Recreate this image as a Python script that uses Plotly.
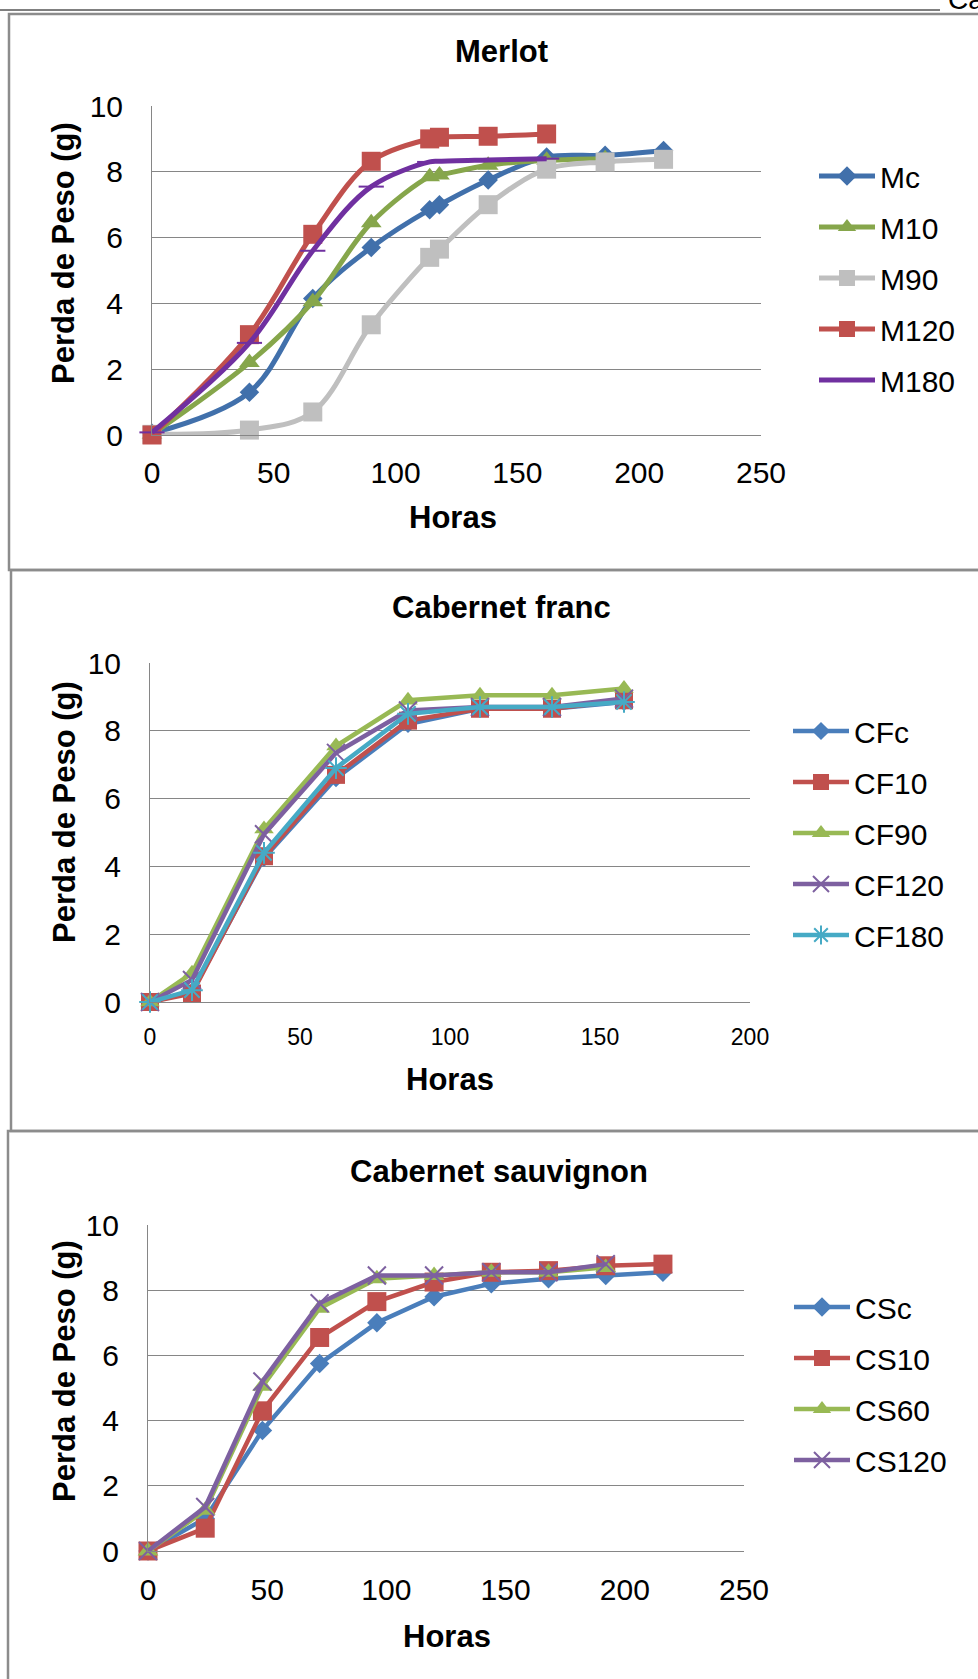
import plotly.graph_objects as go

W, H = 978, 1679

# ---------------- DATA ----------------
# Merlot
m_hours_long = [0, 40, 66, 90, 114, 118, 138, 162, 186, 210]
m_hours_m10 = [0, 40, 66, 90, 114, 118, 138, 162, 186]
m_hours_short = [0, 40, 66, 90, 114, 118, 138, 162]
mc = [0.05, 1.3, 4.15, 5.7, 6.85, 7.0, 7.75, 8.45, 8.5, 8.65]
m10 = [0.02, 2.2, 4.05, 6.45, 7.85, 7.9, 8.2, 8.35, 8.4]
m90 = [0.02, 0.15, 0.7, 3.35, 5.4, 5.65, 7.0, 8.08, 8.3, 8.38]
m120 = [0.0, 3.05, 6.1, 8.32, 9.0, 9.05, 9.08, 9.15]
m180 = [0.08, 2.8, 5.6, 7.55, 8.3, 8.32, 8.36, 8.4]

# Cabernet franc
cf_hours = [0, 14, 38, 62, 86, 110, 134, 158]
cfc = [0, 0.3, 4.25, 6.6, 8.2, 8.65, 8.65, 8.85]
cf10 = [0, 0.25, 4.3, 6.7, 8.3, 8.65, 8.65, 8.9]
cf90 = [0, 0.85, 5.1, 7.55, 8.9, 9.05, 9.05, 9.25]
cf120 = [0, 0.65, 4.95, 7.35, 8.6, 8.7, 8.7, 8.95]
cf180 = [0, 0.35, 4.4, 6.9, 8.5, 8.7, 8.7, 8.85]

# Cabernet sauvignon
cs_hours_long = [0, 24, 48, 72, 96, 120, 144, 168, 192, 216]
cs_hours_short = [0, 24, 48, 72, 96, 120, 144, 168, 192]
csc = [0, 1.0, 3.7, 5.75, 7.0, 7.8, 8.2, 8.35, 8.45, 8.55]
cs10 = [0, 0.7, 4.3, 6.55, 7.65, 8.25, 8.55, 8.6, 8.75, 8.8]
cs60 = [0, 1.25, 5.05, 7.45, 8.35, 8.45, 8.55, 8.55, 8.7]
cs120 = [0, 1.35, 5.2, 7.6, 8.45, 8.45, 8.55, 8.55, 8.8]

titles = ["Merlot", "Cabernet franc", "Cabernet sauvignon"]
x_title = "Horas"
y_title = "Perda de Peso (g)"
header_fragment = "Ca"

# ---------------- LAYOUT HELPERS ----------------
FONT = "Liberation Sans, Arial, sans-serif"


def px_x(x):
    return x / W


def px_y(y):
    return 1 - y / H


BLUE_D = "#4170AB"
GREEN_D = "#86A64B"
GRAY = "#BFBFBF"
RED = "#C0504D"
PURPLE_D = "#7030A0"
BLUE = "#4A7EBB"
GREEN = "#98B954"
PURPLE = "#7D60A0"
CYAN = "#46AAC5"

fig = go.Figure()


def add(x, y, name, color, symbol, size, xa, ya, legend, shape="linear", lw=4.5, open_sym=False):
    marker = dict(symbol=symbol, size=size, color=color)
    if open_sym:
        marker["line"] = dict(color=color, width=2)
    else:
        marker["line"] = dict(color=color, width=0)
    fig.add_trace(go.Scatter(
        x=x, y=y, name=name, mode="lines+markers",
        line=dict(color=color, width=lw, shape=shape, smoothing=1.0),
        marker=marker, xaxis=xa, yaxis=ya, legend=legend,
        legendgroup=name, cliponaxis=False,
    ))


# Merlot
add(m_hours_long, mc, "Mc", BLUE_D, "diamond", 15, "x", "y", "legend", "spline", 5)
add(m_hours_m10, m10, "M10", GREEN_D, "triangle-up", 18, "x", "y", "legend", "spline", 5)
add(m_hours_long, m90, "M90", GRAY, "square", 19, "x", "y", "legend", "spline", 5)
add(m_hours_short, m120, "M120", RED, "square", 19, "x", "y", "legend", "spline", 5)
add(m_hours_short, m180, "M180", PURPLE_D, "line-ew-open", 18, "x", "y", "legend", "spline", 5, True)

# Cabernet franc
add(cf_hours, cfc, "CFc", BLUE, "diamond", 14, "x2", "y2", "legend2")
add(cf_hours, cf10, "CF10", RED, "square", 18, "x2", "y2", "legend2")
add(cf_hours, cf90, "CF90", GREEN, "triangle-up", 17, "x2", "y2", "legend2")
add(cf_hours, cf120, "CF120", PURPLE, "x-thin-open", 18, "x2", "y2", "legend2", open_sym=True)
add(cf_hours, cf180, "CF180", CYAN, "asterisk-open", 18, "x2", "y2", "legend2", open_sym=True)

# Cabernet sauvignon
add(cs_hours_long, csc, "CSc", BLUE, "diamond", 15, "x3", "y3", "legend3")
add(cs_hours_long, cs10, "CS10", RED, "square", 19, "x3", "y3", "legend3")
add(cs_hours_short, cs60, "CS60", GREEN, "triangle-up", 18, "x3", "y3", "legend3")
add(cs_hours_short, cs120, "CS120", PURPLE, "x-thin-open", 18, "x3", "y3", "legend3", open_sym=True)

GRID = "#868686"
plots = [
    # (x0, x1, ytop, ybot, xmax, xdtick, xtickfont, xstandoff)
    (152, 761, 106, 435, 250, 50, 30, 11),
    (150, 750, 663, 1002, 200, 50, 23, 14),
    (148, 744, 1225, 1551, 250, 50, 30, 12),
]

layout = dict(
    width=W, height=H, margin=dict(l=0, r=0, t=0, b=0, autoexpand=False),
    paper_bgcolor="white", plot_bgcolor="white",
    font=dict(family=FONT, color="black"),
    showlegend=True,
)
for i, (x0, x1, yt, yb, xmax, dt, xfs, xso) in enumerate(plots):
    sfx = "" if i == 0 else str(i + 1)
    layout["xaxis" + sfx] = dict(
        domain=[px_x(x0), px_x(x1)], range=[0, xmax], dtick=dt, tick0=0,
        anchor="y" + sfx, showgrid=False, zeroline=False,
        showline=True, linecolor=GRID, linewidth=1, ticks="",
        tickfont=dict(size=xfs, family=FONT), ticklabelstandoff=xso,
        fixedrange=True, automargin=False,
    )
    layout["yaxis" + sfx] = dict(
        domain=[px_y(yb), px_y(yt)], range=[0, 10], dtick=2, tick0=0,
        anchor="x" + sfx, showgrid=True, gridcolor=GRID, gridwidth=1,
        zeroline=False, showline=True, linecolor=GRID, linewidth=1, ticks="",
        tickfont=dict(size=30, family=FONT), ticklabelstandoff=22,
        fixedrange=True, automargin=False,
    )

leg_common = dict(font=dict(size=30, family=FONT), bgcolor="rgba(0,0,0,0)",
                  borderwidth=0, tracegroupgap=9, itemwidth=56,
                  xanchor="left", yanchor="top")
layout["legend"] = dict(x=px_x(814), y=px_y(150), **leg_common)
layout["legend2"] = dict(x=px_x(788), y=px_y(705), **leg_common)
layout["legend3"] = dict(x=px_x(789), y=px_y(1281), **leg_common)

annotations = []
title_pos = [(501, 51), (501, 608), (499, 1171)]
xt_pos = [(453, 518), (450, 1079), (447, 1636)]
yt_pos = [(64, 253), (64, 812), (64, 1371)]
for i in range(3):
    annotations.append(dict(text="<b>%s</b>" % titles[i], x=px_x(title_pos[i][0]), y=px_y(title_pos[i][1]),
                            xref="paper", yref="paper", showarrow=False,
                            font=dict(size=31, family=FONT), xanchor="center", yanchor="middle"))
    annotations.append(dict(text="<b>%s</b>" % x_title, x=px_x(xt_pos[i][0]), y=px_y(xt_pos[i][1]),
                            xref="paper", yref="paper", showarrow=False,
                            font=dict(size=31, family=FONT), xanchor="center", yanchor="middle"))
    annotations.append(dict(text="<b>%s</b>" % y_title, x=px_x(yt_pos[i][0]), y=px_y(yt_pos[i][1]),
                            xref="paper", yref="paper", showarrow=False, textangle=-90,
                            font=dict(size=31, family=FONT), xanchor="center", yanchor="middle"))
# cut-off running header text at top right
annotations.append(dict(text=header_fragment, x=px_x(946), y=px_y(-1), xref="paper", yref="paper",
                        showarrow=False, font=dict(size=28, family=FONT),
                        xanchor="left", yanchor="middle"))
layout["annotations"] = annotations

BOX = "#8C8C8C"
shapes = [
    dict(type="line", xref="paper", yref="paper", x0=0, x1=px_x(940), y0=px_y(10), y1=px_y(10),
         line=dict(color="black", width=1)),
    dict(type="rect", xref="paper", yref="paper", x0=px_x(9), x1=px_x(1000), y0=px_y(14), y1=px_y(570),
         line=dict(color=BOX, width=2.5)),
    dict(type="rect", xref="paper", yref="paper", x0=px_x(11), x1=px_x(1000), y0=px_y(570), y1=px_y(1131),
         line=dict(color=BOX, width=2.5)),
    dict(type="rect", xref="paper", yref="paper", x0=px_x(8), x1=px_x(1000), y0=px_y(1131), y1=px_y(1720),
         line=dict(color=BOX, width=2.5)),
]
layout["shapes"] = shapes

fig.update_layout(**layout)
fig.write_html("out.html")
